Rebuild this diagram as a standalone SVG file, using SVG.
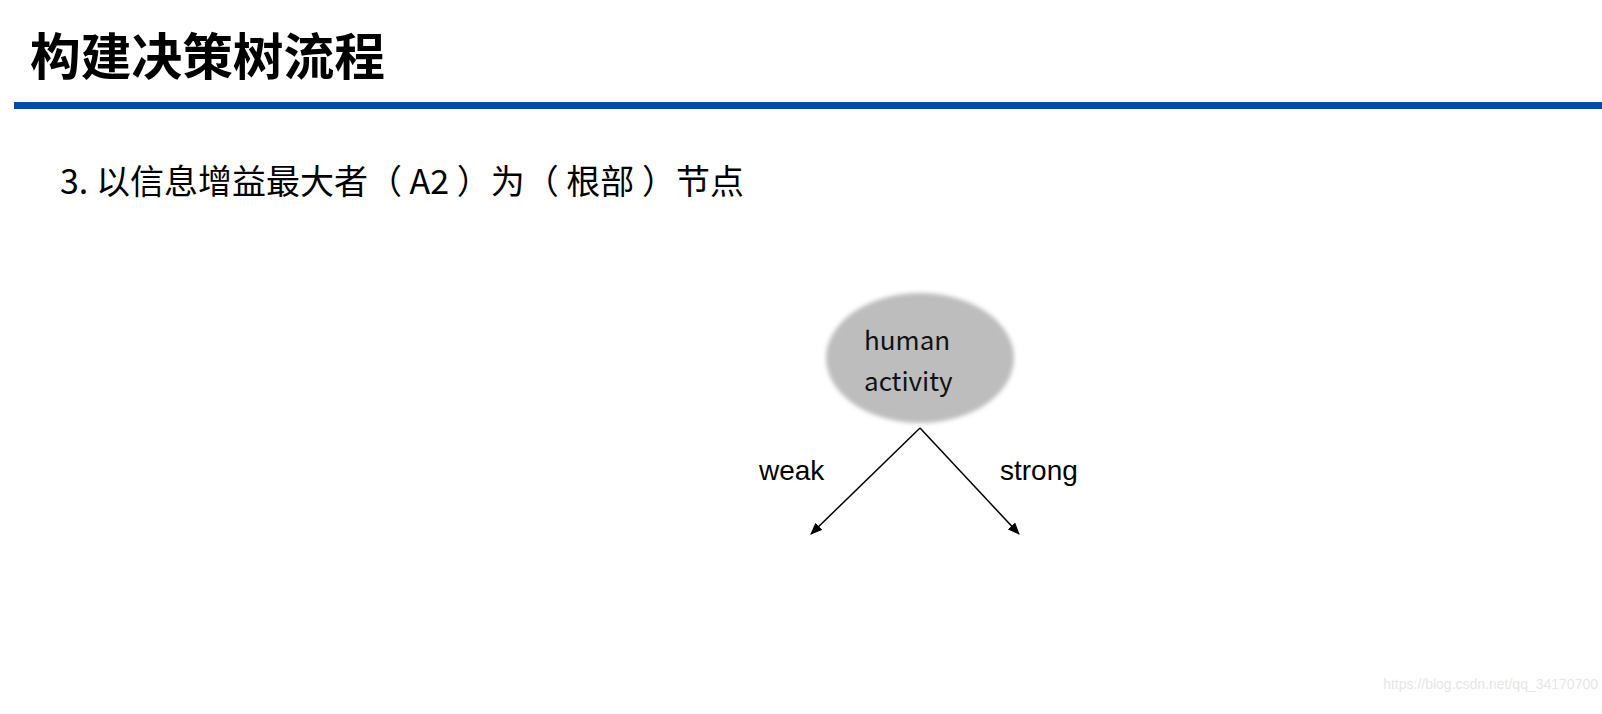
<svg xmlns="http://www.w3.org/2000/svg" width="1602" height="714" viewBox="0 0 1602 714">
<style>
.t{font-family:"Noto Sans CJK SC","Noto Sans",sans-serif}
.l{font-family:"Liberation Sans",Arial,sans-serif;font-size:28px;fill:#000}
.e{stroke:#000;stroke-width:1.5;fill:none;marker-end:url(#a)}
</style>
<defs>
<marker id="a" markerWidth="12" markerHeight="10" refX="11" refY="5" orient="auto" markerUnits="userSpaceOnUse"><path d="M0,0 L12,5 L0,10 z" fill="#000"/></marker>
<filter id="b" x="-20%" y="-20%" width="140%" height="140%"><feGaussianBlur stdDeviation="2"/></filter>
</defs>
<rect width="1602" height="714" fill="#fff"/>
<text x="30" y="75" class="t" font-size="50" font-weight="bold" textLength="355" lengthAdjust="spacingAndGlyphs">构建决策树流程</text>
<rect x="14" y="102" width="1588" height="7" fill="#0a4aa6"/>
<text x="60" y="194" class="t" font-size="34" xml:space="preserve">3. 以信息增益最大者（ A2 ）为（ 根部 ）节点</text>
<g id="root">
<ellipse cx="920" cy="358" rx="94" ry="65" fill="#bdbdbd" filter="url(#b)"/>
<text x="864" y="350" class="t" font-size="26" fill="#111">human</text>
<text x="864" y="391" class="t" font-size="26" fill="#111">activity</text>
</g>
<g id="connectors">
<line x1="920" y1="428" x2="811" y2="534" class="e"/>
<line x1="920" y1="428" x2="1019" y2="534" class="e"/>
<text x="759" y="480" class="l">weak</text>
<text x="1000" y="480" class="l">strong</text>
</g>
<text x="1598" y="689" text-anchor="end" font-family="Liberation Sans,sans-serif" font-size="14" fill="#e6e6e6">https://blog.csdn.net/qq_34170700</text>
</svg>
